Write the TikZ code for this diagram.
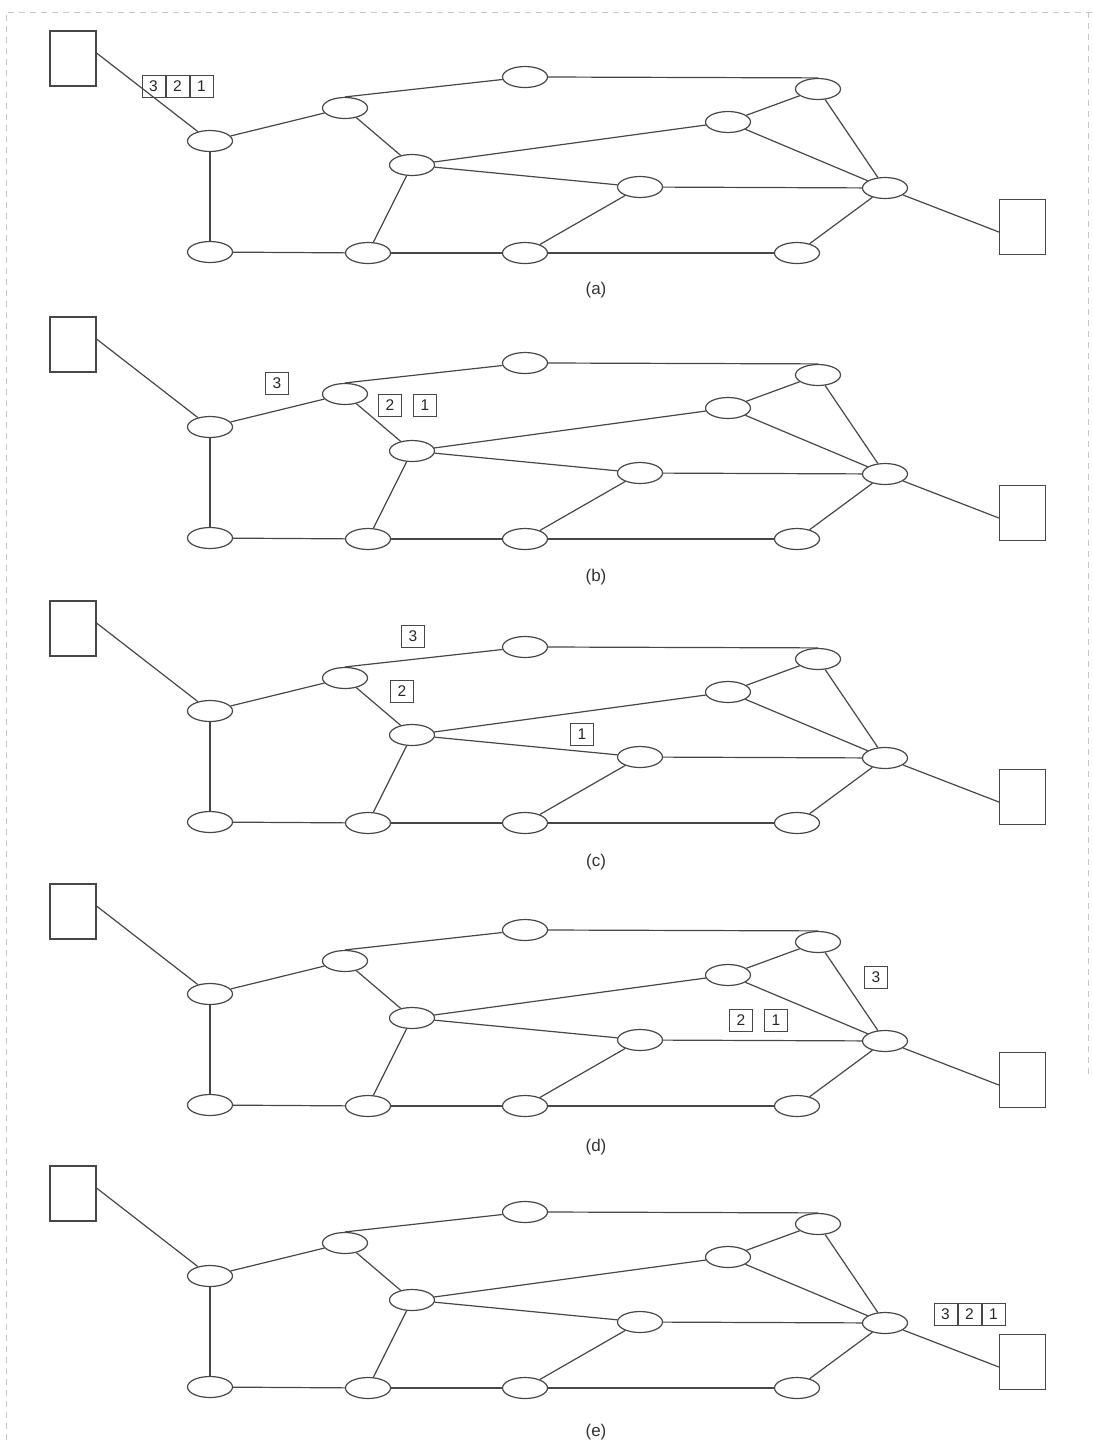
\documentclass[tikz,border=0pt]{standalone}
\usepackage{fontspec}
\setmainfont{Liberation Sans}
\usetikzlibrary{positioning,shapes.geometric}
\definecolor{ink}{gray}{0.28}
\tikzset{
  router/.style={draw=ink, ellipse, minimum width=45pt, minimum height=21pt, inner sep=0pt, line width=1.2pt},
  host/.style={draw=ink, rectangle, minimum width=46pt, minimum height=55pt, inner sep=0pt, line width=1.2pt},
  pkt/.style={draw=ink, rectangle, minimum width=23pt, minimum height=22pt, inner sep=0pt,
              line width=1pt, font=\fontsize{15.5}{15.5}\selectfont, text=black!85},
  link/.style={draw=ink, line width=1.2pt},
  caption/.style={font=\fontsize{17}{17}\selectfont, text=black!80},
  frame/.style={draw=black!22, line width=1pt, dash pattern=on 6pt off 5pt},
}
\begin{document}
\begin{tikzpicture}[x=1pt, y=-1pt]
\useasboundingbox (0,0) rectangle (1093,1452);
\draw[frame] (6,1440) -- (6,12) -- (1093,12);
\draw[frame] (1088,12) -- (1088,1075);
% the same network, five snapshots
\foreach \p/\dy/\cy in {a/0/290, b/286/291, c/570/292, d/853/294, e/1135/297} {
  \begin{scope}[shift={(0,\dy)}]
    \node[host] (src\p) at (73,58.5) {};
    \node[host] (dst\p) at (1022.5,227) {};
    \node[router] (A\p) at (210,141) {};
    \node[router] (B\p) at (210,252) {};
    \node[router] (C\p) at (345,108) {};
    \node[router] (D\p) at (412,165) {};
    \node[router] (E\p) at (368,253) {};
    \node[router] (F\p) at (525,77) {};
    \node[router] (G\p) at (525,253) {};
    \node[router] (H\p) at (818,89) {};
    \node[router] (I\p) at (728,122) {};
    \node[router] (J\p) at (640,187) {};
    \node[router] (K\p) at (885,188) {};
    \node[router] (L\p) at (797,253) {};
    \node[caption] (cap\p) at (596,\cy) {(\p)};
    \draw[link] (src\p.13) -- (A\p);
    \foreach \u/\v in {A/B,A/C,B/E,C/D,E/D,E/G,D/I,D/J,G/J,G/L,J/K,I/H,I/K,H/K,L/K}
      \draw[link] (\u\p) -- (\v\p);
    \draw[link] (C\p.north) -- (F\p);
    \draw[link] (F\p.east) -- (H\p.north);
    \draw[link] (K\p) -- (dst\p.192);
  \end{scope}
}
% packets 3 2 1 on their way
\node[pkt] (p3a) at (153.5,86.5) {3};
\node[pkt, right=0pt of p3a] (p2a) {2};
\node[pkt, right=0pt of p2a] (p1a) {1};
\node[pkt] (p3b) at (277,383) {3};
\node[pkt] (p2b) at (390,405) {2};
\node[pkt, right=11pt of p2b] (p1b) {1};
\node[pkt] (p3c) at (413,636) {3};
\node[pkt] (p2c) at (402,691) {2};
\node[pkt] (p1c) at (582,734) {1};
\node[pkt] (p3d) at (876,977) {3};
\node[pkt] (p2d) at (741,1020) {2};
\node[pkt, right=11pt of p2d] (p1d) {1};
\node[pkt] (p3e) at (945.5,1314) {3};
\node[pkt, right=0pt of p3e] (p2e) {2};
\node[pkt, right=0pt of p2e] (p1e) {1};
\end{tikzpicture}
\end{document}
